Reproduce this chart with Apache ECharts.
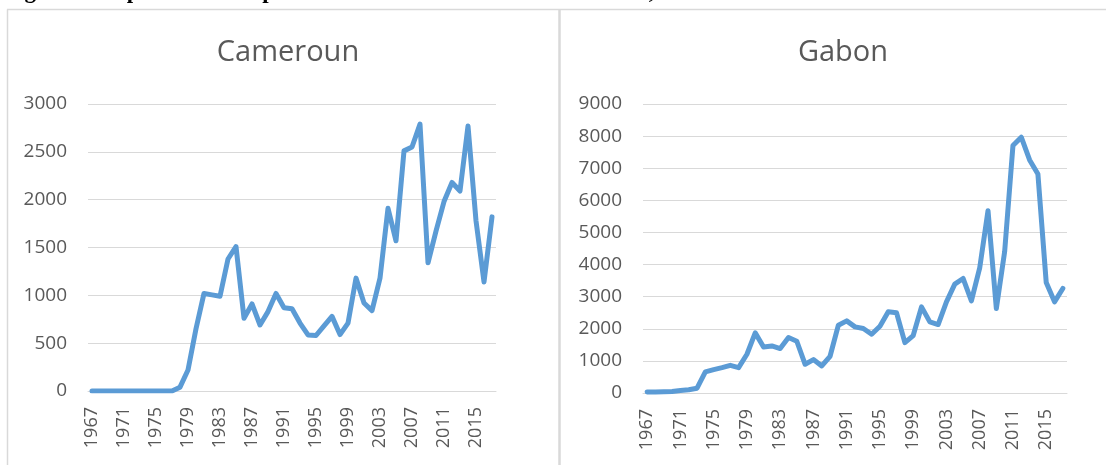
<!DOCTYPE html>
<html>
<head>
<meta charset="utf-8">
<script src="https://cdn.jsdelivr.net/npm/echarts@6/dist/echarts.min.js"></script>
<style>
  html, body { margin: 0; padding: 0; background: #fff; }
  #chart { width: 1106px; height: 465px; }
</style>
</head>
<body>
<div id="chart"></div>
<script>
// années 1967 - 2017
const years = [];
for (let y = 1967; y <= 2017; y++) years.push(String(y));

// exportations Cameroun
const cameroun = [
  0, 0, 0, 0, 0, 0, 0, 0, 0, 0,
  0, 40, 220, 650, 1020, 1005, 990, 1380, 1510, 760,
  910, 690, 830, 1020, 870, 860, 710, 586, 580, 680,
  780, 590, 710, 1180, 920, 840, 1180, 1910, 1570, 2510,
  2550, 2790, 1340, 1670, 1980, 2180, 2090, 2770, 1780, 1140,
  1820
];

// exportations Gabon
const gabon = [
  30, 35, 40, 50, 80, 100, 150, 655, 728, 790,
  863, 790, 1206, 1872, 1435, 1466, 1383, 1726, 1612, 894,
  1040, 842, 1144, 2111, 2246, 2059, 2007, 1830, 2080, 2527,
  2496, 1570, 1789, 2683, 2215, 2132, 2839, 3390, 3567, 2870,
  3900, 5678, 2631, 4400, 7706, 7966, 7259, 6822, 3442, 2839,
  3255
];

const chart = echarts.init(document.getElementById('chart'));

const txt = '#595959';
const grey = '#d9d9d9';
const blue = '#5B9BD5';

function xAxis(idx) {
  return {
    type: 'category',
    gridIndex: idx,
    data: years,
    boundaryGap: true,
    axisLine: { lineStyle: { color: grey, width: 1 } },
    axisTick: { show: false },
    axisLabel: {
      interval: 3,
      rotate: 90,
      color: txt,
      fontFamily: 'Open Sans',
      fontSize: 18,
      margin: 16
    }
  };
}

function yAxis(idx, max, interval) {
  return {
    type: 'value',
    gridIndex: idx,
    min: 0,
    max: max,
    interval: interval,
    axisLine: { show: false },
    axisTick: { show: false },
    splitLine: { lineStyle: { color: grey, width: 1 } },
    axisLabel: {
      color: txt,
      fontFamily: 'Open Sans',
      fontSize: 19,
      margin: 21,
      formatter: v => String(v)
    }
  };
}

function lineSerie(idx, data) {
  return {
    type: 'line',
    xAxisIndex: idx,
    yAxisIndex: idx,
    data: data,
    showSymbol: false,
    symbol: 'none',
    lineStyle: { color: blue, width: 5, cap: 'round', join: 'round' },
    animation: false
  };
}

const option = {
  backgroundColor: '#fff',
  animation: false,
  title: [
    {
      text: 'Cameroun',
      left: 283,
      top: 33,
      textAlign: 'center',
      textStyle: { color: txt, fontFamily: 'Open Sans', fontSize: 29, fontWeight: 'normal' }
    },
    {
      text: 'Gabon',
      left: 838,
      top: 33,
      textAlign: 'center',
      textStyle: { color: txt, fontFamily: 'Open Sans', fontSize: 29, fontWeight: 'normal' }
    }
  ],
  grid: [
    { left: 88, right: 610, top: 104, bottom: 74 },
    { left: 643, right: 39, top: 104, bottom: 72 }
  ],
  xAxis: [xAxis(0), xAxis(1)],
  yAxis: [yAxis(0, 3000, 500), yAxis(1, 9000, 1000)],
  series: [lineSerie(0, cameroun), lineSerie(1, gabon)],
  graphic: [
    {
      type: 'text',
      left: 4,
      top: -19,
      style: {
        text: 'Figure 1 : exportations de pétrole brut du Cameroun et du Gabon, en millions de $US de 2010',
        fill: '#000',
        font: 'bold 23px "Liberation Serif"'
      }
    },
    { type: 'line', shape: { x1: 7.5, y1: 9.5, x2: 7.5, y2: 465 }, style: { stroke: grey, lineWidth: 1.5 } },
    { type: 'line', shape: { x1: 7, y1: 9.5, x2: 1106, y2: 9.5 }, style: { stroke: grey, lineWidth: 1.5 } },
    { type: 'line', shape: { x1: 559.5, y1: 9.5, x2: 559.5, y2: 465 }, style: { stroke: grey, lineWidth: 2.5 } }
  ]
};

chart.setOption(option);
</script>
</body>
</html>
